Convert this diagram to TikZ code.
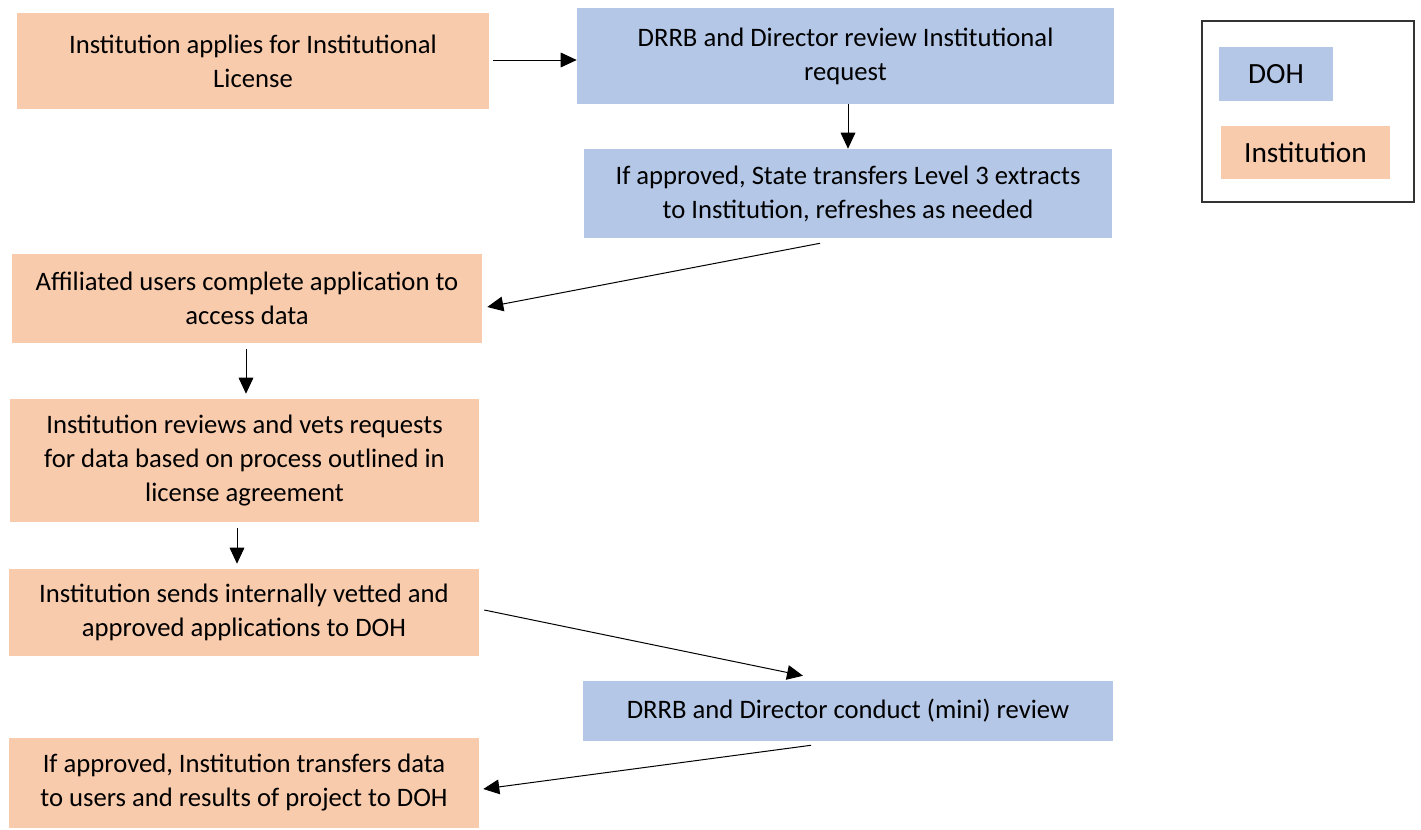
\documentclass[tikz,border=0pt]{standalone}
\usepackage{fontspec}
\setmainfont{Carlito}
\usetikzlibrary{arrows.meta,calc}
\definecolor{instfill}{HTML}{F8CBAD}
\definecolor{dohfill}{HTML}{B4C7E7}
\begin{document}
\begin{tikzpicture}[x=0.75pt,y=-0.75pt,
  inst/.style={fill=instfill, align=center, inner sep=0pt, font=\fontsize{20pt}{25.5pt}\selectfont},
  doh/.style={inst, fill=dohfill},
  arr/.style={-{Triangle[length=12pt,width=11pt]}, line width=0.75pt}]
\useasboundingbox (0,0) rectangle (1421,829);
\node[inst, minimum width=354pt, minimum height=72pt] (st0) at (253,61){Institution applies for Institutional\\License};
\node[doh, minimum width=402.75pt, minimum height=72pt] (st1) at (845.5,56){DRRB and Director review Institutional\\request};
\node[doh, minimum width=396pt, minimum height=66.75pt] (st2) at (848,193.5){If approved, State transfers Level 3 extracts\\to Institution, refreshes as needed};
\node[inst, minimum width=352.5pt, minimum height=66.75pt] (st3) at (247,298.5){Affiliated users complete application to\\access data};
\node[inst, minimum width=351.75pt, minimum height=92.25pt] (st4) at (244.5,460.5){Institution reviews and vets requests\\for data based on process outlined in\\license agreement};
\node[inst, minimum width=352.5pt, minimum height=65.25pt] (st5) at (244,612.5){Institution sends internally vetted and\\approved applications to DOH};
\node[doh, minimum width=397.5pt, minimum height=45pt] (st6) at (848,711){DRRB and Director conduct (mini) review};
\node[inst, minimum width=352.5pt, minimum height=67.5pt] (st7) at (244,783){If approved, Institution transfers data\\to users and results of project to DOH};
\node[draw=black!80, line width=1pt, minimum width=159pt, minimum height=135.75pt] (lg0) at (1308,111.5){};
\node[doh, minimum width=85.5pt, minimum height=40.5pt, font=\fontsize{22pt}{26pt}\selectfont] (lg1) at (1276,74){DOH};
\node[inst, minimum width=126.75pt, minimum height=39.75pt, font=\fontsize{22pt}{26pt}\selectfont] (lg2) at (1305.5,152.5){Institution};
\draw[arr] ($(st0.east)+(4,-1)$) -- ($(st1.west)+(0,4)$);
\draw[arr] (st2.north |- st1.south) -- (st2.north);
\draw[arr] ($(st2.south)+(-28,5)$) -- ($(st3.east)+(5,8.5)$);
\draw[arr] ($(st3.south)+(-1,6)$) -- ($(st4.north)+(1.5,-5)$);
\draw[arr] ($(st4.south)+(-7.5,6)$) -- ($(st5.north)+(-7,-5)$);
\draw[arr] ($(st5.east)+(5,-2.5)$) -- ($(st6.north)+(-45,-5)$);
\draw[arr] ($(st6.south)+(-37,4)$) -- ($(st7.east)+(4,6)$);
\end{tikzpicture}
\end{document}
